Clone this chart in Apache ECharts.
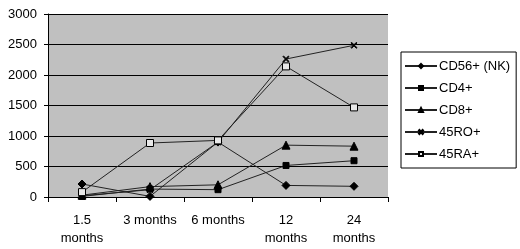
<!DOCTYPE html>
<html>
<head>
<meta charset="utf-8">
<script src="https://cdn.jsdelivr.net/npm/echarts@6/dist/echarts.min.js"></script>
<style>
html, body { margin: 0; padding: 0; background: #fff; }
#chart { width: 520px; height: 249px; }
</style>
</head>
<body>
<div id="chart"></div>
<script>
const categories = ['1.5\nmonths', '3 months', '6 months', '12\nmonths', '24\nmonths'];
const cd56 = [213, 10, 900, 190, 175];
const cd4 = [10, 130, 120, 517, 595];
const cd8 = [30, 170, 200, 850, 833];
const ro45 = [20, 120, 900, 2262, 2487];
const ra45 = [80, 885, 928, 2141, 1469];

const crossPath = 'path://M0,1L1,0L5,4L9,0L10,1L6,5L10,9L9,10L5,6L1,10L0,9L4,5Z';

const makeSeries = (name, data, symbol, size, color) => ({
    name: name,
    type: 'line',
    data: data,
    symbol: symbol,
    symbolSize: size,
    showAllSymbol: true,
    lineStyle: { color: '#222', width: 1 },
    itemStyle: { color: color, borderColor: '#000', borderWidth: 1 },
    emphasis: { disabled: true },
    animation: false
});

const chart = echarts.init(document.getElementById('chart'));
chart.setOption({
    backgroundColor: '#fff',
    textStyle: { fontFamily: 'Liberation Sans, Arial, sans-serif' },
    grid: { left: 48, right: 132, top: 14, bottom: 52, show: true, backgroundColor: '#c0c0c0', borderWidth: 0 },
    legend: {
        orient: 'vertical',
        left: 401,
        top: 52,
        width: 108,
        padding: [6, 6, 6, 3],
        itemGap: 6,
        itemWidth: 32,
        itemHeight: 5,
        borderColor: '#000',
        borderWidth: 1,
        backgroundColor: '#fff',
        textStyle: { color: '#000', fontSize: 13, lineHeight: 16, padding: [0, 0, 0, -3] },
        data: ['CD56+ (NK)', 'CD4+', 'CD8+', '45RO+', '45RA+']
    },
    xAxis: {
        type: 'category',
        data: categories,
        boundaryGap: true,
        axisLine: { lineStyle: { color: '#000', width: 1 } },
        axisTick: { show: true, length: 5, lineStyle: { color: '#000' } },
        axisLabel: { color: '#000', fontSize: 13, lineHeight: 18, margin: 14, interval: 0 }
    },
    yAxis: {
        type: 'value',
        min: 0,
        max: 3000,
        interval: 500,
        axisLine: { show: true, lineStyle: { color: '#000', width: 1 } },
        axisTick: { show: true, length: 4, lineStyle: { color: '#000' } },
        axisLabel: { color: '#000', fontSize: 13, margin: 11, formatter: (v) => String(v) },
        splitLine: { lineStyle: { color: '#000', width: 1 } }
    },
    series: [
        makeSeries('CD56+ (NK)', cd56, 'diamond', 8, '#000'),
        makeSeries('CD4+', cd4, 'rect', 6, '#000'),
        makeSeries('CD8+', cd8, 'triangle', 8, '#000'),
        makeSeries('45RO+', ro45, crossPath, 6, '#000'),
        makeSeries('45RA+', ra45, 'rect', 7, '#e8e8e8')
    ]
});
</script>
</body>
</html>
